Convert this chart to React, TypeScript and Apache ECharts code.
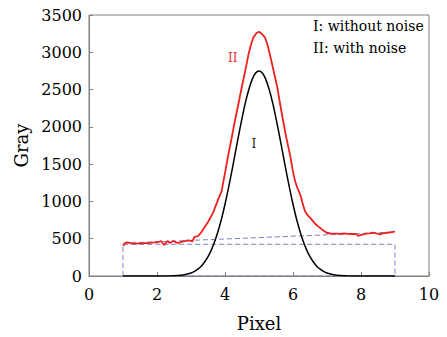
import React, { useEffect, useRef } from "react";
import * as echarts from "echarts";

const blackX = [1.0, 2.0, 2.4, 2.6, 2.8, 3.0, 3.1, 3.2, 3.3, 3.4, 3.5, 3.6, 3.7, 3.8, 3.9, 4.0, 4.1, 4.2, 4.3, 4.4, 4.5, 4.6, 4.7, 4.8, 4.9, 5.0, 5.1, 5.2, 5.3, 5.4, 5.5, 5.6, 5.7, 5.8, 5.9, 6.0, 6.1, 6.2, 6.3, 6.4, 6.5, 6.6, 6.7, 6.8, 6.9, 7.0, 7.2, 7.4, 7.6, 8.0, 9.0];
const blackY = [0, 0, 2, 6, 17, 41, 62, 92, 132, 187, 259, 351, 466, 606, 771, 962, 1174, 1404, 1644, 1884, 2115, 2325, 2502, 2637, 2721, 2750, 2721, 2637, 2502, 2325, 2115, 1884, 1644, 1404, 1174, 962, 771, 606, 466, 351, 259, 187, 132, 92, 62, 41, 17, 6, 2, 0, 0];

const redX = [1.0, 1.05, 1.1, 1.16, 1.25, 1.35, 1.5, 1.65, 1.75, 1.84, 1.95, 2.04, 2.12, 2.21, 2.31, 2.38, 2.48, 2.55, 2.63, 2.7, 2.77, 2.85, 2.92, 3.0, 3.04, 3.1, 3.21, 3.3, 3.36, 3.5, 3.65, 3.8, 3.9, 4.0, 4.1, 4.2, 4.29, 4.4, 4.49, 4.6, 4.69, 4.77, 4.83, 4.92, 5.0, 5.08, 5.18, 5.25, 5.32, 5.43, 5.54, 5.62, 5.71, 5.8, 5.91, 6.0, 6.06, 6.13, 6.21, 6.28, 6.35, 6.42, 6.5, 6.58, 6.65, 6.72, 6.79, 6.88, 6.99, 7.1, 7.19, 7.3, 7.4, 7.5, 7.58, 7.7, 7.8, 7.87, 7.92, 8.0, 8.07, 8.15, 8.25, 8.36, 8.45, 8.56, 8.65, 8.76, 8.85, 9.0];
const redY = [405, 430, 450, 447, 438, 433, 438, 442, 440, 447, 450, 456, 469, 415, 469, 442, 469, 455, 442, 455, 465, 470, 478, 472, 465, 523, 536, 585, 626, 724, 849, 1028, 1139, 1380, 1631, 1860, 2078, 2320, 2524, 2760, 2972, 3110, 3195, 3255, 3275, 3250, 3195, 3100, 2972, 2750, 2524, 2310, 2078, 1860, 1631, 1400, 1273, 1180, 1095, 980, 871, 820, 782, 740, 701, 672, 648, 612, 580, 570, 567, 568, 565, 570, 567, 563, 566, 559, 536, 552, 559, 568, 572, 580, 570, 559, 572, 580, 584, 594];

const boxX = [1, 1, 9, 9, 1];
const boxY = [0, 425, 425, 0, 0];
const slopeX = [1, 9];
const slopeY = [440, 590];

const xTicks = { min: 0, max: 10, interval: 2 };
const yTicks = { min: 0, max: 3500, interval: 500 };

const legendLines = ["I: without noise", "II: with noise"];
const curveTags = [
  { text: "II", x: 4.23, y: 2920, color: "#e53030" },
  { text: "I", x: 4.85, y: 1770, color: "#222222" },
];

const zip = (xs: number[], ys: number[]) => xs.map((x, i) => [x, ys[i]]);

const FONT = "DejaVu Serif";

export default function App() {
  const ref = useRef<HTMLDivElement>(null);
  useEffect(() => {
    document.body.style.margin = "0";
    if (!ref.current) return;
    const chart = echarts.init(ref.current, null, { renderer: "svg" });
    const axisColor = "#808080";
    chart.setOption({
      animation: false,
      backgroundColor: "#fff",
      grid: { left: 89, right: 18, top: 15, bottom: 61, show: true, borderColor: axisColor, borderWidth: 1 },
      xAxis: {
        type: "value",
        ...xTicks,
        name: "Pixel",
        nameLocation: "middle",
        nameGap: 38,
        nameTextStyle: { fontFamily: FONT, fontSize: 18, color: "#000" },
        axisLine: { lineStyle: { color: axisColor } },
        axisTick: { inside: true, length: 4, lineStyle: { color: axisColor } },
        axisLabel: { fontFamily: FONT, fontSize: 16, color: "#000", margin: 10, formatter: (v: number) => String(v) },
        splitLine: { show: false },
      },
      yAxis: {
        type: "value",
        ...yTicks,
        name: "Gray",
        nameLocation: "middle",
        nameGap: 58,
        nameTextStyle: { fontFamily: FONT, fontSize: 18, color: "#000" },
        axisLine: { show: true, lineStyle: { color: axisColor } },
        axisTick: { show: true, inside: true, length: 4, lineStyle: { color: axisColor } },
        axisLabel: { fontFamily: FONT, fontSize: 16, color: "#000", margin: 7, formatter: (v: number) => String(v) },
        splitLine: { show: false },
      },
      series: [
        {
          type: "line",
          data: zip(boxX, boxY),
          symbol: "none",
          lineStyle: { color: "#7383c9", width: 1, type: [5, 3] },
          z: 1,
        },
        {
          type: "line",
          data: zip(slopeX, slopeY),
          symbol: "none",
          lineStyle: { color: "#7383c9", width: 1, type: [5, 3] },
          z: 1,
        },
        {
          type: "line",
          data: zip(blackX, blackY),
          symbol: "none",
          smooth: 0.2,
          lineStyle: { color: "#000", width: 1.5 },
          z: 3,
        },
        {
          type: "line",
          data: zip(redX, redY),
          symbol: "none",
          lineStyle: { color: "#f02020", width: 1.8 },
          z: 4,
        },
      ],
    });
    const tagGraphics = curveTags.map((t) => {
      const p = chart.convertToPixel({ gridIndex: 0 }, [t.x, t.y]) as number[];
      return {
        type: "text",
        x: p[0],
        y: p[1],
        style: { text: t.text, font: `12px "${FONT}"`, fill: t.color, align: "center", verticalAlign: "middle" },
      };
    });
    const legendGraphics = legendLines.map((s, i) => ({
      type: "text",
      left: 313,
      top: 19 + i * 22,
      style: { text: s, font: `14px "${FONT}"`, fill: "#000" },
    }));
    chart.setOption({ graphic: [...legendGraphics, ...tagGraphics] });
    return () => chart.dispose();
  }, []);
  return <div ref={ref} style={{ width: 447, height: 337 }} />;
}
